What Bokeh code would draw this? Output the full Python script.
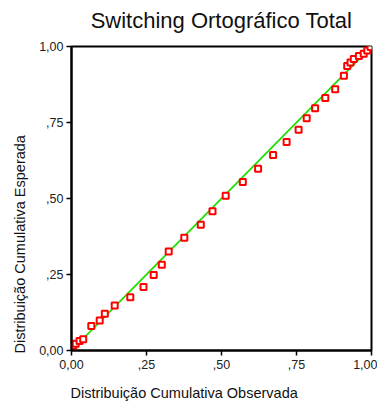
from bokeh.plotting import figure
from bokeh.models import Range1d, FixedTicker, ColumnDataSource, Title, LinearAxis
from bokeh.embed import file_html
from bokeh.resources import INLINE

observed = [0.006, 0.014, 0.027, 0.039, 0.066, 0.094, 0.111, 0.144, 0.196, 0.240,
            0.274, 0.301, 0.324, 0.376, 0.431, 0.470, 0.514, 0.571, 0.622, 0.672,
            0.717, 0.757, 0.784, 0.812, 0.846, 0.879, 0.908, 0.919, 0.930, 0.941,
            0.958, 0.974, 0.986, 0.997]
expected = [0.016, 0.022, 0.031, 0.037, 0.081, 0.099, 0.121, 0.148, 0.175, 0.209,
            0.248, 0.282, 0.326, 0.371, 0.414, 0.458, 0.509, 0.554, 0.598, 0.643,
            0.686, 0.726, 0.764, 0.797, 0.831, 0.859, 0.904, 0.936, 0.947, 0.959,
            0.969, 0.976, 0.987, 0.998]
diag = [0.0, 1.0]
ticks = [0.0, 0.25, 0.5, 0.75, 1.0]
tick_labels = ["0,00", ",25", ",50", ",75", "1,00"]
title_text = "Switching Ortográfico Total"
xlabel = "Distribuição Cumulativa Observada"
ylabel = "Distribuição Cumulativa Esperada"

FONT = "Liberation Sans"

p = figure(width=377, height=413, output_backend="svg", toolbar_location=None,
           x_range=Range1d(0, 1), y_range=Range1d(0, 1),
           min_border_left=70, min_border_right=6, min_border_top=46, min_border_bottom=63)
p.background_fill_color = "white"
p.border_fill_color = "white"
p.outline_line_color = "black"
p.outline_line_width = 2
p.grid.visible = False

xa = p.below[0]
ya = p.left[0]

label_map = {t: l for t, l in zip(ticks, tick_labels)}
for ax in (xa, ya):
    ax.ticker = FixedTicker(ticks=ticks)
    ax.major_label_overrides = label_map
    ax.axis_line_width = 2
    ax.axis_line_color = "black"
    ax.major_tick_line_color = "black"
    ax.major_tick_line_width = 1.5
    ax.major_tick_out = 5
    ax.major_tick_in = 0
    ax.minor_tick_line_color = None
    ax.major_label_text_font = FONT
    ax.major_label_text_font_size = "12.5px"
    ax.major_label_text_color = "#222222"
xa.major_label_standoff = 4
ya.major_label_standoff = 3

# chart title drawn as the label of a bare axis above the frame
top_ax = LinearAxis(ticker=FixedTicker(ticks=[]), axis_line_color=None,
                    major_tick_line_color=None, minor_tick_line_color=None,
                    major_label_text_font_size="0px",
                    axis_label=title_text, axis_label_standoff=14,
                    axis_label_text_font=FONT, axis_label_text_font_size="22px",
                    axis_label_text_font_style="normal", axis_label_text_color="#111111")
p.add_layout(top_ax, "above")

p.line(diag, diag, line_color="#22dd00", line_width=1.8)
src = ColumnDataSource(dict(x=observed, y=expected))
p.scatter("x", "y", source=src, marker="square", size=6, line_color="#ff0000",
          line_width=2, fill_color="white")

# x axis title starting at the frame's left edge
p.add_layout(Title(text=xlabel, align="left", text_font=FONT, text_font_size="14.5px",
                   text_font_style="normal", text_color="#111111", standoff=22,
                   offset=-1), "below")

p.add_layout(Title(text=ylabel, align="left", text_font=FONT, text_font_size="14.5px",
                   text_font_style="normal", text_color="#111111", standoff=18,
                   offset=-3), "left")

open("out.html", "w").write(file_html(p, INLINE))
